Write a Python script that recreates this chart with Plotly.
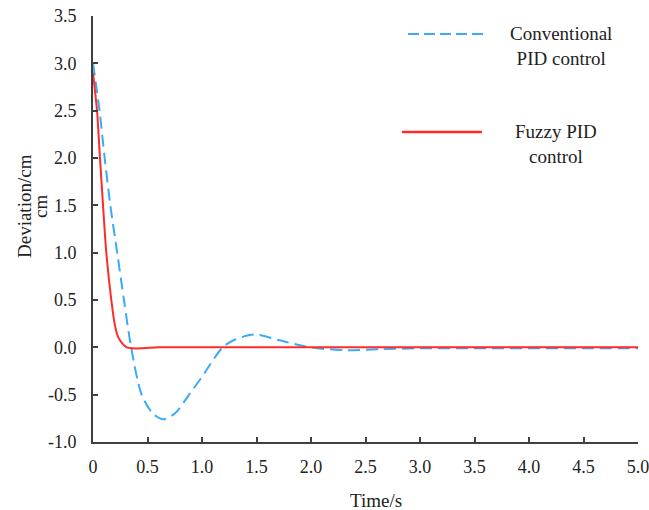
import plotly.graph_objects as go

# Conventional PID control (dashed blue)
t_conv = [0, 0.06, 0.107, 0.159, 0.222, 0.284, 0.35, 0.446, 0.55, 0.644, 0.75, 0.882, 1.0, 1.19, 1.3, 1.48, 1.71, 1.99, 2.32, 2.63, 3.0, 3.5, 4.0, 4.5, 5.0]
y_conv = [3.0, 2.5, 2.0, 1.5, 1.0, 0.5, 0.0, -0.5, -0.70, -0.76, -0.70, -0.5, -0.31, 0.0, 0.08, 0.135, 0.075, 0.0, -0.03, -0.02, -0.01, -0.01, -0.01, -0.01, -0.01]

# Fuzzy PID control (solid red)
t_fuzzy = [0, 0.037, 0.064, 0.092, 0.122, 0.168, 0.2, 0.23, 0.27, 0.31, 0.36, 0.45, 0.6, 1.0, 2.0, 3.0, 4.0, 5.0]
y_fuzzy = [2.9, 2.5, 2.0, 1.5, 1.0, 0.5, 0.24, 0.11, 0.04, 0.0, -0.01, -0.01, 0.0, 0.0, 0.0, 0.0, 0.0, 0.0]

x_ticks = [0, 0.5, 1.0, 1.5, 2.0, 2.5, 3.0, 3.5, 4.0, 4.5, 5.0]
x_tick_text = ["0", "0.5", "1.0", "1.5", "2.0", "2.5", "3.0", "3.5", "4.0", "4.5", "5.0"]
y_ticks = [-1.0, -0.5, 0.0, 0.5, 1.0, 1.5, 2.0, 2.5, 3.0, 3.5]
y_tick_text = ["-1.0", "-0.5", "0.0", "0.5", "1.0", "1.5", "2.0", "2.5", "3.0", "3.5"]

BLUE = "#3AABF5"
RED = "#FF2A2A"
FONT = "Times New Roman, Liberation Serif, DejaVu Serif, serif"
TXT = "#222222"

# plot area in pixels: x 93..638, y 16..442
L, R, T, B = 93, 638, 16, 442
def px(x):
    return (x - L) / (R - L)
def py(y):
    return (B - y) / (B - T)

fig = go.Figure()
fig.add_trace(go.Scatter(x=t_conv, y=y_conv, mode="lines", name="Conventional PID control",
                         line=dict(color=BLUE, width=2, dash="12px,6px", shape="spline", smoothing=0.8)))
fig.add_trace(go.Scatter(x=t_fuzzy, y=y_fuzzy, mode="lines", name="Fuzzy PID control",
                         line=dict(color=RED, width=2, shape="spline", smoothing=0.6)))

axis_common = dict(showgrid=False, zeroline=False, showline=True, linecolor="#404040", linewidth=2,
                   ticks="inside", ticklen=5, tickwidth=1.5, tickcolor="#404040", automargin=False,
                   ticklabeloverflow="allow",
                   tickfont=dict(family=FONT, size=18, color=TXT))

fig.update_xaxes(range=[0, 5.0], tickvals=x_ticks, ticktext=x_tick_text, ticklabelstandoff=7,
                 **axis_common)
fig.update_yaxes(range=[-1.0, 3.5], tickvals=y_ticks, ticktext=y_tick_text, ticklabelstandoff=11,
                 **axis_common)

# axis titles
fig.add_annotation(xref="paper", yref="paper", x=px(375.5), y=py(500), showarrow=False,
                   text="Time/s", xanchor="center", yanchor="middle",
                   font=dict(family=FONT, size=19, color=TXT))
fig.add_annotation(xref="paper", yref="paper", x=px(24), y=py(206), showarrow=False,
                   text="Deviation/cm", textangle=-90, xanchor="center", yanchor="middle",
                   font=dict(family=FONT, size=19, color=TXT))
fig.add_annotation(xref="paper", yref="paper", x=px(40), y=py(207), showarrow=False,
                   text="cm", textangle=-90, xanchor="center", yanchor="middle",
                   font=dict(family=FONT, size=19, color=TXT))

# legend drawn manually
fig.add_shape(type="line", xref="paper", yref="paper", x0=px(408), x1=px(487),
              y0=py(34), y1=py(34), line=dict(color=BLUE, width=2, dash="11px,5px"))
fig.add_shape(type="line", xref="paper", yref="paper", x0=px(402), x1=px(482),
              y0=py(132), y1=py(132), line=dict(color=RED, width=2.5))
fig.add_annotation(xref="paper", yref="paper", x=px(561), y=py(46), showarrow=False,
                   text="Conventional<br>PID control", align="center", xanchor="center", yanchor="middle",
                   font=dict(family=FONT, size=19, color=TXT))
fig.add_annotation(xref="paper", yref="paper", x=px(556), y=py(143.5), showarrow=False,
                   text="Fuzzy PID<br>control", align="center", xanchor="center", yanchor="middle",
                   font=dict(family=FONT, size=19, color=TXT))

fig.update_layout(width=649, height=510, showlegend=False,
                  margin=dict(l=L, r=649 - R, t=T, b=510 - B),
                  plot_bgcolor="white", paper_bgcolor="white")

fig.write_html("out.html", config={"displayModeBar": False},
               post_script="document.body.style.margin='0';")
